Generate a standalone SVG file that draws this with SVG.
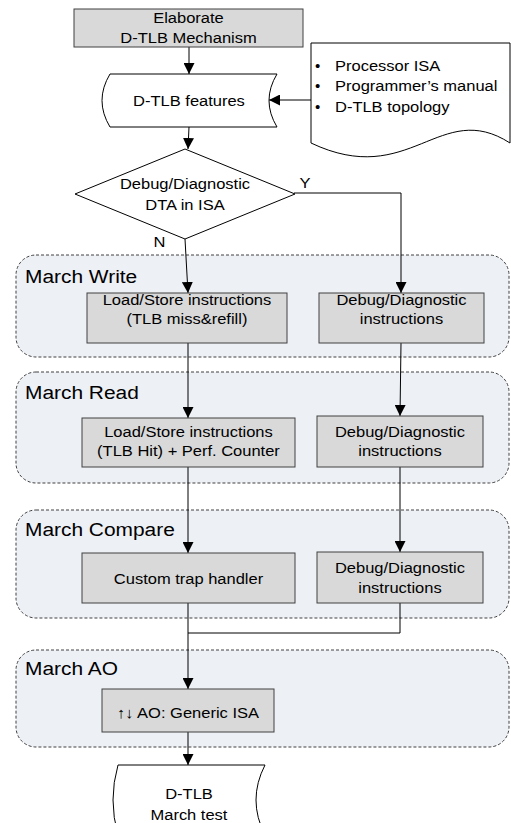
<svg xmlns="http://www.w3.org/2000/svg" width="511" height="823" viewBox="0 0 511 823">
<style>
text{font-family:"Liberation Sans",Arial,sans-serif;font-size:15px;fill:#000}
.c{text-anchor:middle}
.s{transform-box:fill-box;transform-origin:center;transform:scaleX(1.1)}
.l{transform-box:fill-box;transform-origin:left center;transform:scaleX(1.1)}
.g{font-size:19px}
.box{fill:#d9d9d9;stroke:#404040;stroke-width:1}
.shape{fill:#fff;stroke:#000;stroke-width:1}
.grp{fill:#edf0f5;stroke:#404040;stroke-width:1;stroke-dasharray:3,2}
.cn{fill:none;stroke:#000;stroke-width:1}
</style>
<defs>
<marker id="ah" markerUnits="userSpaceOnUse" markerWidth="11" markerHeight="11" refX="10" refY="5" orient="auto" viewBox="0 0 10 10">
<path d="M0,0 L10,5 L0,10 Z" fill="#000"/>
</marker>
</defs>

<g id="grp-write"><rect class="grp" x="16" y="255" width="493" height="102" rx="20"/><text class="g l" x="25" y="283">March Write</text></g>
<g id="grp-read"><rect class="grp" x="16" y="372" width="493" height="111" rx="20"/><text class="g l" x="25" y="399">March Read</text></g>
<g id="grp-compare"><rect class="grp" x="16" y="510" width="493" height="108" rx="20"/><text class="g l" x="25" y="536">March Compare</text></g>
<g id="grp-ao"><rect class="grp" x="16" y="650" width="493" height="97" rx="20"/><text class="g l" x="25" y="675">March AO</text></g>

<g id="connectors">
<path class="cn" d="M189,47 L189,74" marker-end="url(#ah)"/>
<path class="cn" d="M311,100 L269,100" marker-end="url(#ah)"/>
<path class="cn" d="M189,127 L188,149" marker-end="url(#ah)"/>
<path class="cn" d="M185,239 L188,293" marker-end="url(#ah)"/>
<path class="cn" d="M294,193 L401,193 L401,293" marker-end="url(#ah)"/>
<path class="cn" d="M188,343 L188,418" marker-end="url(#ah)"/>
<path class="cn" d="M401,343 L400,416" marker-end="url(#ah)"/>
<path class="cn" d="M188,467 L188,553" marker-end="url(#ah)"/>
<path class="cn" d="M400,467 L400,552" marker-end="url(#ah)"/>
<path class="cn" d="M188,603 L188,689" marker-end="url(#ah)"/>
<path class="cn" d="M400,603 L400,633 L188,633"/>
<path class="cn" d="M188,732 L188,765" marker-end="url(#ah)"/>
<text class="s" x="300" y="188">Y</text>
<text class="s" x="154" y="247">N</text>
</g>

<g id="elaborate"><rect class="box" x="74" y="9" width="229" height="38"/><text class="c s" x="188.5" y="23">Elaborate</text><text class="c s" x="188.5" y="43">D-TLB Mechanism</text></g>

<g id="features"><path class="shape" d="M110,74 L277,74 Q261,100.5 277,127 L110,127 Q94,100.5 110,74 Z"/><text class="c s" x="189" y="106">D-TLB features</text></g>

<g id="sources"><path class="shape" d="M311,43 L510,43 L510,143 C440,98 410,190 311,143 Z"/>
<text x="315" y="71">•</text><text class="l" x="335" y="71">Processor ISA</text>
<text x="315" y="91">•</text><text class="l" x="335" y="91">Programmer’s manual</text>
<text x="315" y="112">•</text><text class="l" x="335" y="112">D-TLB topology</text></g>

<g id="decision"><path class="shape" d="M185,149 L295,194 L185,239 L75,194 Z"/><text class="c s" x="185" y="189">Debug/Diagnostic</text><text class="c s" x="185" y="210">DTA in ISA</text></g>

<g id="ls-write"><rect class="box" x="87" y="293" width="200" height="50"/><text class="c s" x="187" y="305">Load/Store instructions</text><text class="c s" x="187" y="324">(TLB miss&amp;refill)</text></g>
<g id="dd-write"><rect class="box" x="319" y="293" width="165" height="50"/><text class="c s" x="401.5" y="305">Debug/Diagnostic</text><text class="c s" x="401.5" y="324">instructions</text></g>

<g id="ls-read"><rect class="box" x="82" y="418" width="213" height="49"/><text class="c s" x="188.5" y="437">Load/Store instructions</text><text class="c s" x="188.5" y="456">(TLB Hit) + Perf. Counter</text></g>
<g id="dd-read"><rect class="box" x="317" y="416" width="166" height="51"/><text class="c s" x="400" y="437">Debug/Diagnostic</text><text class="c s" x="400" y="456">instructions</text></g>

<g id="trap"><rect class="box" x="82" y="553" width="213" height="50"/><text class="c s" x="188.5" y="584">Custom trap handler</text></g>
<g id="dd-compare"><rect class="box" x="317" y="552" width="166" height="51"/><text class="c s" x="400" y="573">Debug/Diagnostic</text><text class="c s" x="400" y="593">instructions</text></g>

<g id="ao"><rect class="box" x="102" y="689" width="172" height="43"/><text class="c s" x="188" y="718">↑↓ AO: Generic ISA</text></g>

<g id="march-test"><path class="shape" d="M118,765 L265,765 Q247,800 265,835 L118,835 Q108,800 118,765 Z"/><text class="c s" x="189" y="799">D-TLB</text><text class="c s" x="189" y="820">March test</text></g>
</svg>
